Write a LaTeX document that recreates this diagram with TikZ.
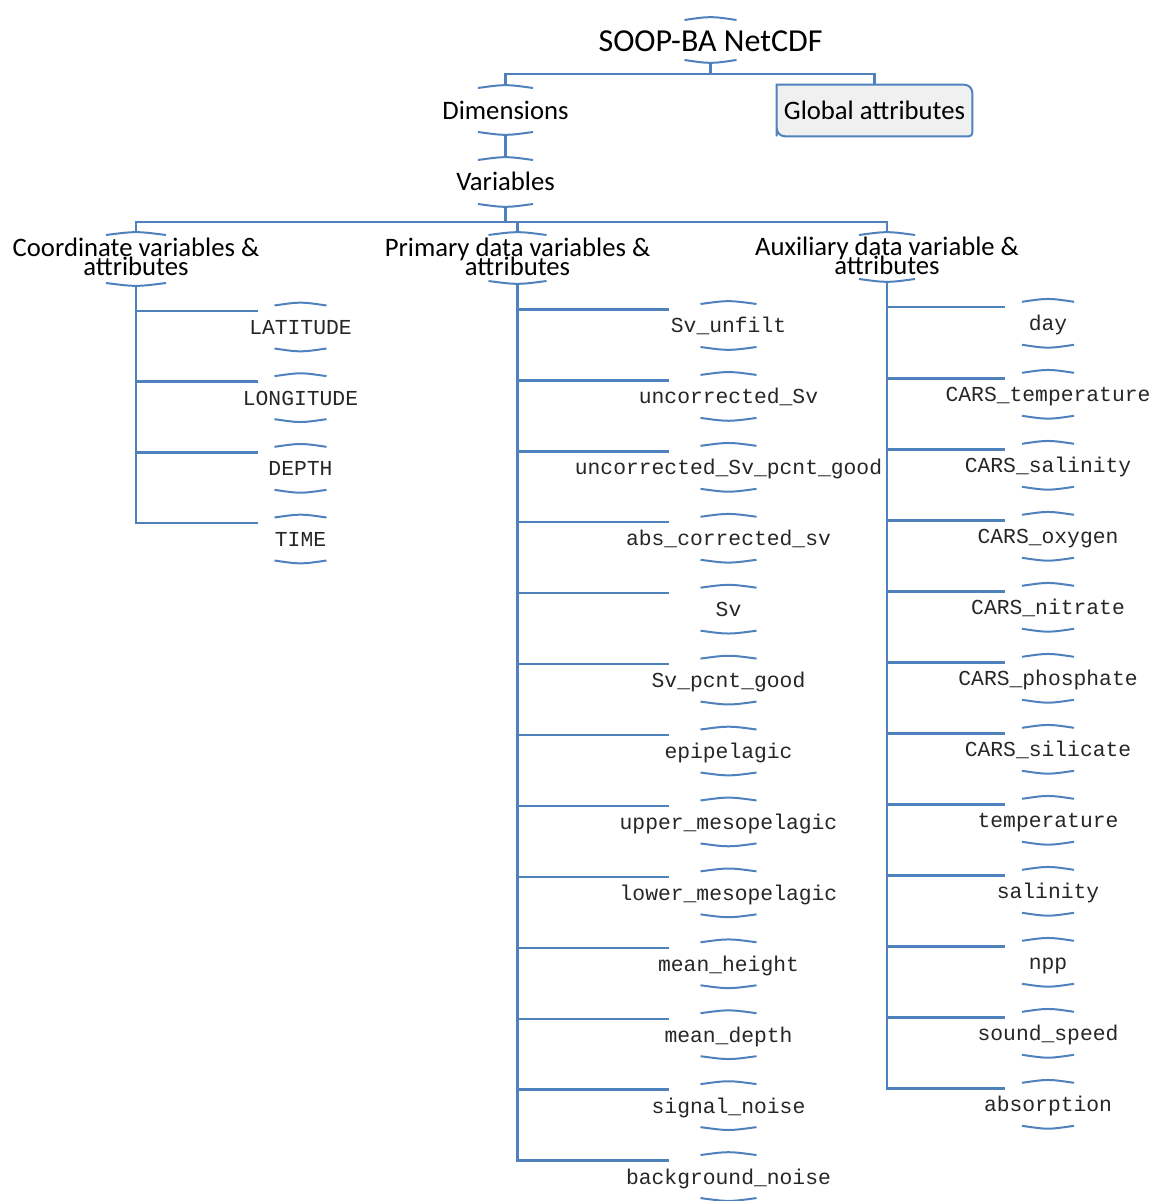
\documentclass[tikz,border=0pt]{standalone}
\usepackage{fontspec}
\setmainfont{Carlito}
\setmonofont{Liberation Mono}
\usetikzlibrary{calc,backgrounds}
\definecolor{lineblue}{HTML}{4F81BD}
\definecolor{boxfill}{HTML}{F0F0F0}
\definecolor{monotext}{HTML}{262626}
% #1 node name, #2 half width, #3 top offset, #4 bottom offset (all in px units)
\newcommand\twoarcs[4]{%
  \coordinate (#1-t) at ($(#1.center)+(0,-#3)$);
  \coordinate (#1-b) at ($(#1.center)+(0,#4)$);
  \draw[arcline] ($(#1-t)+(-#2,2)$) .. controls ($(#1-t)+(0,-1.8)$) .. ($(#1-t)+(#2,2)$);
  \draw[arcline] ($(#1-b)+(-#2,-2)$) .. controls ($(#1-b)+(0,1.8)$) .. ($(#1-b)+(#2,-2)$);
}
\begin{document}
\begin{tikzpicture}[x=0.75pt,y=-0.75pt,
  conn/.style={draw=lineblue, line width=1.8pt},
  arcline/.style={draw=lineblue, line width=1.5pt},
  titlelbl/.style={font=\fontsize{24}{28}\selectfont, inner sep=0pt, text height=21pt, text depth=4.5pt},
  lbl/.style={font=\fontsize{20}{24}\selectfont, inner sep=0pt, text height=18pt, text depth=4.5pt},
  lbltwo/.style={font={\fontsize{20}{14.25}\selectfont\lineskiplimit=-30pt}, inner sep=0pt, align=center},
  leaf/.style={font=\ttfamily\fontsize{16}{18}\selectfont, text=monotext, inner sep=0pt, text height=12pt, text depth=1.5pt},
  gabox/.style={lbl, minimum width=146.25pt, minimum height=38.25pt}
]
\useasboundingbox (0,0) rectangle (1152,1201);

% top levels
\node[titlelbl] (root) at (710.5,41) {SOOP-BA NetCDF};
\twoarcs{root}{26}{23}{21}
\node[lbl] (dims) at (505.5,111) {Dimensions};
\twoarcs{dims}{27.5}{25}{23}
\node[gabox] (ga) at (874.5,110.5) {Global attributes};
\begin{pgfonlayer}{background}
\draw[line width=1.5pt, draw=lineblue, fill=boxfill]
  (ga.south west) -- (ga.north west) [rounded corners=6pt] -- (ga.north east)
  [rounded corners=2.5pt] -- (ga.south east) [rounded corners=6pt] -- (ga.south west)
  [sharp corners] -- cycle;
\end{pgfonlayer}
\node[lbl] (vars) at (505.5,182) {Variables};
\twoarcs{vars}{27.5}{24}{24}

\node[lbltwo] (coord) at (136,259) {\rule{0pt}{19.5pt}Coordinate variables \&\\attributes\rule[-8.25pt]{0pt}{8.25pt}};
\twoarcs{coord}{30}{26}{26}
\node[lbltwo] (prim) at (517.5,259) {\rule{0pt}{19.5pt}Primary data variables \&\\attributes\rule[-8.25pt]{0pt}{8.25pt}};
\twoarcs{prim}{29}{26}{24}
\node[lbltwo] (aux) at (887,258) {\rule{0pt}{19.5pt}Auxiliary data variable \&\\attributes\rule[-8.25pt]{0pt}{8.25pt}};
\twoarcs{aux}{28}{25}{23}

% connectors of top levels
\draw[conn] (root-b) -- ++(0,12) -| (dims-t);
\draw[conn] (root-b) -- ++(0,12) -| (ga.north);
\draw[conn] (dims-b) -- (vars-t);
\draw[conn] (vars-b) -- ++(0,16) -| (coord-t);
\draw[conn] (vars-b) -- ++(0,16) -| (prim-t);
\draw[conn] (vars-b) -- ++(0,16) -| (aux-t);

% coordinate variables
\foreach \t [count=\i] in {LATITUDE,LONGITUDE,DEPTH,TIME} {
  \node[leaf] (c\i) at (300.5,{311+70.67*(\i-1)+16.5}) {\t};
  \twoarcs{c\i}{26}{24}{23}
  \draw[conn] (coord-b) |- ($(c\i.center)+(-42.5,-16.5)$);
}
% primary data variables
\foreach \t [count=\i] in {Sv\_unfilt,uncorrected\_Sv,uncorrected\_Sv\_pcnt\_good,abs\_corrected\_sv,Sv,Sv\_pcnt\_good,epipelagic,upper\_mesopelagic,lower\_mesopelagic,mean\_height,mean\_depth,signal\_noise,background\_noise} {
  \node[leaf] (p\i) at (728.5,{309.5+70.92*(\i-1)+16.5}) {\t};
  \twoarcs{p\i}{28}{24}{23}
  \draw[conn] (prim-b) |- ($(p\i.center)+(-60,-16.5)$);
}
% auxiliary data variables
\foreach \t [count=\i] in {day,CARS\_temperature,CARS\_salinity,CARS\_oxygen,CARS\_nitrate,CARS\_phosphate,CARS\_silicate,temperature,salinity,npp,sound\_speed,absorption} {
  \node[leaf] (a\i) at (1048,{307.3+71*(\i-1)+16.5}) {\t};
  \twoarcs{a\i}{26}{24}{23}
  \draw[conn] (aux-b) |- ($(a\i.center)+(-43,-16.5)$);
}
\end{tikzpicture}
\end{document}
